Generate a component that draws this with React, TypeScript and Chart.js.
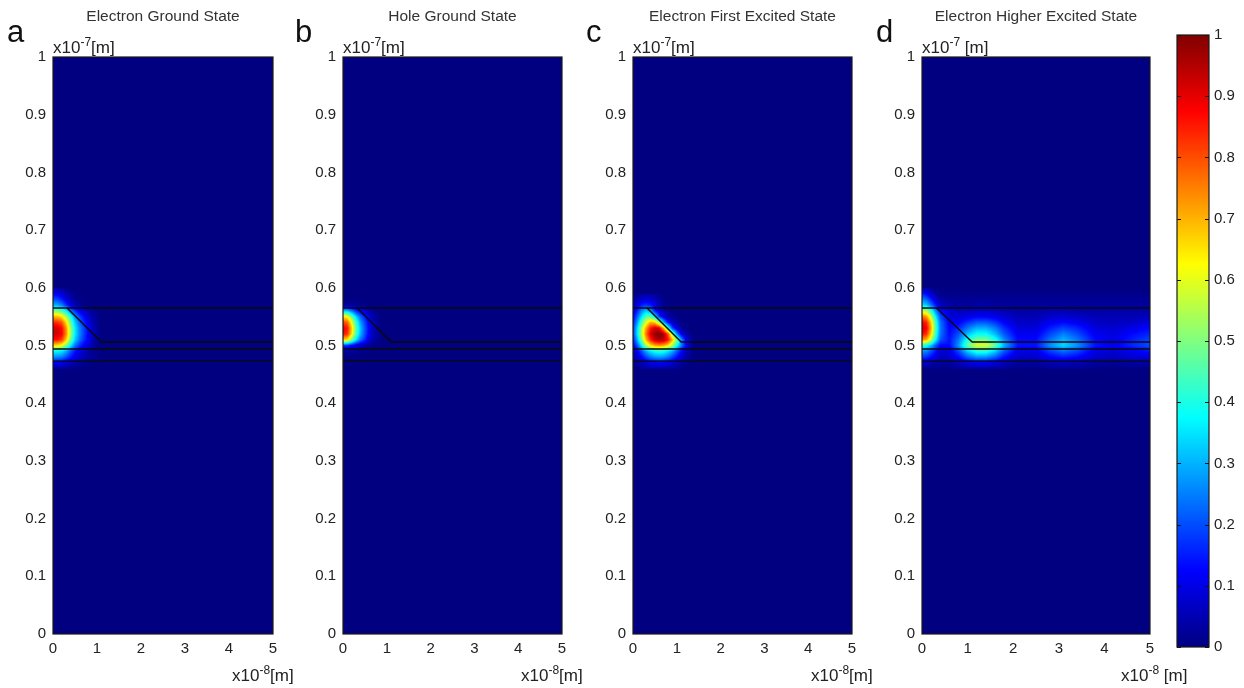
import React, { useEffect, useRef } from 'react';
import { Chart, registerables } from 'chart.js';
Chart.register(...registerables);

// ---------- DATA ----------
const yTickValues = [0, 0.1, 0.2, 0.3, 0.4, 0.5, 0.6, 0.7, 0.8, 0.9, 1];
const yTickLabels = ['0', '0.1', '0.2', '0.3', '0.4', '0.5', '0.6', '0.7', '0.8', '0.9', '1'];
const xTickValues = [0, 1, 2, 3, 4, 5];
const xTickLabels = ['0', '1', '2', '3', '4', '5'];
const cbTickValues = [0, 0.1, 0.2, 0.3, 0.4, 0.5, 0.6, 0.7, 0.8, 0.9, 1];
const cbTickLabels = ['0', '0.1', '0.2', '0.3', '0.4', '0.5', '0.6', '0.7', '0.8', '0.9', '1'];

const panelTitles = ['Electron Ground State', 'Hole Ground State', 'Electron First Excited State', 'Electron Higher Excited State'];
const panelLetters = ['a', 'b', 'c', 'd'];
const yUnitLabels = [['x10', '-7', '[m]'], ['x10', '-7', '[m]'], ['x10', '-7', '[m]'], ['x10', '-7', ' [m]']];
const xUnitLabels = [['x10', '-8', '[m]'], ['x10', '-8', '[m]'], ['x10', '-8', '[m]'], ['x10', '-8', ' [m]']];

// structure outline (x in 1e-8 m, y in 1e-7 m)
const topLineX = [0, 5];
const topLineY = [0.565, 0.565];
const stepLineX = [0.32, 1.1, 5];
const stepLineY = [0.565, 0.506, 0.506];
const midLineX = [0, 5];
const midLineY = [0.494, 0.494];
const lowLineX = [0, 5];
const lowLineY = [0.473, 0.473];

// probability density grids (rows: y from top to bottom, cols: x)
const gridAX = [0, 0.1, 0.2, 0.3, 0.4, 0.5, 0.6, 0.7, 0.8, 0.9, 1.0, 1.1];
const gridAY = [0.60, 0.59, 0.58, 0.57, 0.56, 0.55, 0.54, 0.53, 0.52, 0.51, 0.50, 0.49, 0.48, 0.47, 0.46];
const gridAValues = [
  [0.03, 0.03, 0.02, 0.01, 0, 0, 0, 0, 0, 0, 0, 0],
  [0.12, 0.11, 0.08, 0.05, 0.02, 0.01, 0, 0, 0, 0, 0, 0],
  [0.20, 0.19, 0.15, 0.09, 0.05, 0.02, 0.01, 0, 0, 0, 0, 0],
  [0.30, 0.29, 0.25, 0.17, 0.10, 0.05, 0.03, 0.01, 0, 0, 0, 0],
  [0.50, 0.49, 0.45, 0.36, 0.25, 0.17, 0.11, 0.07, 0.04, 0.02, 0.01, 0],
  [0.70, 0.69, 0.65, 0.54, 0.40, 0.27, 0.19, 0.13, 0.08, 0.04, 0.02, 0],
  [0.84, 0.83, 0.79, 0.66, 0.48, 0.32, 0.23, 0.16, 0.10, 0.05, 0.02, 0],
  [0.92, 0.91, 0.87, 0.73, 0.53, 0.36, 0.26, 0.19, 0.12, 0.06, 0.03, 0],
  [0.93, 0.92, 0.88, 0.74, 0.54, 0.36, 0.26, 0.19, 0.12, 0.06, 0.03, 0],
  [0.87, 0.86, 0.82, 0.68, 0.49, 0.33, 0.24, 0.17, 0.11, 0.05, 0.02, 0],
  [0.66, 0.65, 0.61, 0.50, 0.36, 0.24, 0.17, 0.12, 0.08, 0.04, 0.02, 0],
  [0.38, 0.37, 0.35, 0.29, 0.21, 0.14, 0.10, 0.07, 0.04, 0.02, 0.01, 0],
  [0.27, 0.26, 0.25, 0.20, 0.15, 0.10, 0.07, 0.05, 0.03, 0.02, 0.01, 0],
  [0.11, 0.11, 0.10, 0.08, 0.06, 0.04, 0.03, 0.02, 0.01, 0, 0, 0],
  [0.03, 0.03, 0.03, 0.02, 0.01, 0.01, 0, 0, 0, 0, 0, 0],
];

const gridBX = [0, 0.1, 0.2, 0.3, 0.4, 0.5, 0.6, 0.7, 0.8, 0.9];
const gridBY = [0.58, 0.57, 0.56, 0.55, 0.54, 0.53, 0.52, 0.51, 0.50, 0.49, 0.48];
const gridBValues = [
  [0, 0, 0, 0, 0, 0, 0, 0, 0, 0],
  [0.03, 0.03, 0.03, 0.02, 0.01, 0.01, 0, 0, 0, 0],
  [0.32, 0.31, 0.24, 0.16, 0.11, 0.07, 0.04, 0.02, 0.01, 0],
  [0.65, 0.62, 0.48, 0.33, 0.22, 0.15, 0.08, 0.04, 0.01, 0],
  [0.81, 0.78, 0.61, 0.42, 0.28, 0.19, 0.10, 0.05, 0.02, 0],
  [0.89, 0.85, 0.67, 0.46, 0.31, 0.21, 0.11, 0.05, 0.02, 0],
  [0.86, 0.83, 0.65, 0.45, 0.30, 0.20, 0.11, 0.05, 0.02, 0],
  [0.68, 0.65, 0.50, 0.35, 0.24, 0.16, 0.08, 0.04, 0.02, 0],
  [0.18, 0.17, 0.13, 0.09, 0.06, 0.04, 0.02, 0.01, 0, 0],
  [0.03, 0.03, 0.03, 0.02, 0.01, 0.01, 0, 0, 0, 0],
  [0, 0, 0, 0, 0, 0, 0, 0, 0, 0],
];

const gridCX = [0, 0.1, 0.2, 0.3, 0.4, 0.5, 0.6, 0.7, 0.8, 0.9, 1.0, 1.1, 1.2, 1.3, 1.4];
const gridCY = [0.59, 0.58, 0.57, 0.56, 0.55, 0.54, 0.53, 0.52, 0.51, 0.50, 0.49, 0.48, 0.47, 0.46];
const gridCValues = [
  [0, 0.01, 0.02, 0.03, 0.03, 0.02, 0.01, 0, 0, 0, 0, 0, 0, 0, 0],
  [0.02, 0.05, 0.08, 0.09, 0.08, 0.06, 0.03, 0.01, 0, 0, 0, 0, 0, 0, 0],
  [0.05, 0.10, 0.15, 0.17, 0.15, 0.10, 0.05, 0.02, 0.01, 0, 0, 0, 0, 0, 0],
  [0.08, 0.16, 0.26, 0.32, 0.28, 0.15, 0.08, 0.04, 0.02, 0.01, 0, 0, 0, 0, 0],
  [0.11, 0.22, 0.35, 0.46, 0.47, 0.36, 0.18, 0.09, 0.04, 0.02, 0.01, 0, 0, 0, 0],
  [0.14, 0.28, 0.45, 0.60, 0.70, 0.68, 0.52, 0.30, 0.14, 0.07, 0.03, 0.01, 0, 0, 0],
  [0.17, 0.34, 0.54, 0.72, 0.85, 0.92, 0.90, 0.70, 0.42, 0.19, 0.09, 0.03, 0.01, 0, 0],
  [0.17, 0.35, 0.56, 0.76, 0.91, 0.98, 1.00, 0.96, 0.80, 0.52, 0.26, 0.11, 0.04, 0.01, 0],
  [0.14, 0.30, 0.50, 0.70, 0.84, 0.93, 0.96, 0.94, 0.86, 0.70, 0.50, 0.28, 0.13, 0.05, 0.01],
  [0.10, 0.21, 0.37, 0.54, 0.65, 0.71, 0.73, 0.71, 0.65, 0.54, 0.39, 0.25, 0.13, 0.05, 0.01],
  [0.05, 0.11, 0.20, 0.29, 0.35, 0.39, 0.40, 0.39, 0.35, 0.29, 0.21, 0.13, 0.06, 0.03, 0],
  [0.03, 0.07, 0.13, 0.19, 0.24, 0.27, 0.28, 0.27, 0.24, 0.19, 0.14, 0.08, 0.04, 0.02, 0],
  [0.01, 0.03, 0.05, 0.08, 0.10, 0.11, 0.12, 0.11, 0.10, 0.08, 0.05, 0.03, 0.02, 0, 0],
  [0, 0.01, 0.02, 0.03, 0.04, 0.04, 0.04, 0.04, 0.03, 0.03, 0.02, 0.01, 0, 0, 0],
];

const gridDX = [0, 0.1, 0.2, 0.3, 0.4, 0.6, 0.8, 1.0, 1.2, 1.4, 1.6, 1.8, 2.1, 2.5, 2.8, 3.1, 3.4, 3.8, 4.2, 4.6, 5.0];
const gridDY = [0.60, 0.59, 0.58, 0.57, 0.56, 0.55, 0.54, 0.53, 0.52, 0.51, 0.50, 0.49, 0.48, 0.47, 0.46];
const gridDValues = [
  [0.05, 0.04, 0.02, 0.01, 0, 0, 0, 0, 0, 0, 0, 0, 0, 0, 0, 0, 0, 0, 0, 0, 0],
  [0.15, 0.12, 0.07, 0.03, 0.01, 0.01, 0.01, 0.01, 0.01, 0.01, 0.01, 0.01, 0.01, 0.01, 0.01, 0.01, 0.01, 0.01, 0.01, 0.01, 0.01],
  [0.25, 0.22, 0.15, 0.08, 0.04, 0.02, 0.02, 0.02, 0.02, 0.02, 0.02, 0.02, 0.02, 0.02, 0.02, 0.02, 0.02, 0.02, 0.02, 0.02, 0.02],
  [0.35, 0.32, 0.24, 0.14, 0.07, 0.04, 0.03, 0.03, 0.04, 0.04, 0.03, 0.03, 0.03, 0.03, 0.03, 0.03, 0.03, 0.03, 0.03, 0.03, 0.03],
  [0.57, 0.54, 0.42, 0.26, 0.14, 0.08, 0.06, 0.06, 0.07, 0.07, 0.06, 0.05, 0.04, 0.04, 0.05, 0.05, 0.04, 0.04, 0.04, 0.04, 0.04],
  [0.77, 0.72, 0.57, 0.36, 0.20, 0.09, 0.08, 0.10, 0.12, 0.12, 0.10, 0.08, 0.05, 0.05, 0.07, 0.08, 0.07, 0.05, 0.05, 0.05, 0.06],
  [0.88, 0.84, 0.67, 0.43, 0.24, 0.11, 0.12, 0.17, 0.21, 0.21, 0.18, 0.12, 0.07, 0.07, 0.11, 0.13, 0.11, 0.07, 0.06, 0.07, 0.09],
  [0.92, 0.88, 0.70, 0.45, 0.25, 0.12, 0.16, 0.24, 0.30, 0.30, 0.25, 0.17, 0.09, 0.09, 0.15, 0.19, 0.16, 0.09, 0.08, 0.10, 0.13],
  [0.87, 0.83, 0.66, 0.43, 0.24, 0.13, 0.20, 0.31, 0.38, 0.38, 0.31, 0.21, 0.11, 0.11, 0.19, 0.25, 0.20, 0.11, 0.09, 0.13, 0.16],
  [0.74, 0.70, 0.56, 0.37, 0.21, 0.14, 0.24, 0.40, 0.49, 0.49, 0.40, 0.26, 0.13, 0.13, 0.23, 0.30, 0.24, 0.13, 0.10, 0.15, 0.19],
  [0.42, 0.39, 0.31, 0.21, 0.13, 0.13, 0.27, 0.47, 0.59, 0.59, 0.48, 0.30, 0.14, 0.14, 0.26, 0.34, 0.27, 0.14, 0.11, 0.16, 0.20],
  [0.27, 0.25, 0.20, 0.14, 0.08, 0.09, 0.19, 0.32, 0.41, 0.41, 0.33, 0.21, 0.10, 0.10, 0.18, 0.23, 0.19, 0.10, 0.08, 0.11, 0.14],
  [0.18, 0.17, 0.13, 0.09, 0.06, 0.07, 0.13, 0.22, 0.27, 0.27, 0.22, 0.14, 0.07, 0.07, 0.12, 0.15, 0.13, 0.07, 0.06, 0.08, 0.09],
  [0.07, 0.07, 0.05, 0.04, 0.03, 0.03, 0.06, 0.09, 0.11, 0.11, 0.09, 0.06, 0.03, 0.03, 0.05, 0.06, 0.05, 0.03, 0.02, 0.03, 0.04],
  [0.02, 0.02, 0.01, 0.01, 0.01, 0.01, 0.02, 0.03, 0.04, 0.04, 0.03, 0.02, 0.01, 0.01, 0.02, 0.02, 0.02, 0.01, 0.01, 0.01, 0.01],
];

const grids = [
  { xs: gridAX, ys: gridAY, values: gridAValues },
  { xs: gridBX, ys: gridBY, values: gridBValues },
  { xs: gridCX, ys: gridCY, values: gridCValues },
  { xs: gridDX, ys: gridDY, values: gridDValues },
];

// ---------- LAYOUT ----------
const PLOT_TOP = 57;
const PLOT_BOTTOM = 634;
const PAGE_H = 688;
const AXIS_W = 53;
const PAD_R = 12;
const panelBoxes = [
  { left: 53, right: 273 },
  { left: 343, right: 562 },
  { left: 633, right: 852 },
  { left: 922, right: 1150 },
];
const letterLefts = [7, 295, 586, 876];
const xUnitLefts = [232, 521, 811, 1121];
const CB = { left: 1177, right: 1209, top: 35, bottom: 647 };

const FONT = '"Liberation Sans", Arial, Helvetica, sans-serif';
const TICK_FONT = { family: '"Liberation Sans Narrow", "Liberation Sans", Arial, sans-serif', size: 15 };
const TEXT_COLOR = '#222';

// ---------- HELPERS ----------
function clamp01(v: number) { return v < 0 ? 0 : v > 1 ? 1 : v; }
function jet(v: number): [number, number, number] {
  const t = clamp01(v);
  const r = clamp01(1.5 - Math.abs(4 * t - 3));
  const g = clamp01(1.5 - Math.abs(4 * t - 2));
  const b = clamp01(1.5 - Math.abs(4 * t - 1));
  return [Math.round(r * 255), Math.round(g * 255), Math.round(b * 255)];
}

function sample(grid: any, xv: number, yv: number) {
  const xs = grid.xs, ys = grid.ys, v = grid.values;
  if (xv < xs[0] || xv > xs[xs.length - 1] || yv > ys[0] || yv < ys[ys.length - 1]) return 0;
  let i = 0;
  while (i < xs.length - 2 && xv > xs[i + 1]) i++;
  let j = 0;
  while (j < ys.length - 2 && yv < ys[j + 1]) j++;
  const tx = (xv - xs[i]) / (xs[i + 1] - xs[i]);
  const ty = (ys[j] - yv) / (ys[j] - ys[j + 1]);
  const a = v[j][i], b = v[j][i + 1], c = v[j + 1][i], d = v[j + 1][i + 1];
  return (a * (1 - tx) + b * tx) * (1 - ty) + (c * (1 - tx) + d * tx) * ty;
}

function makeHeatPlugin(grid: any) {
  return {
    id: 'heat',
    beforeDatasetsDraw(chart: any) {
      const { ctx, chartArea, scales } = chart;
      const left = Math.round(chartArea.left), top = Math.round(chartArea.top);
      const w = Math.round(chartArea.right) - left;
      const h = Math.round(chartArea.bottom) - top;
      const off = document.createElement('canvas');
      off.width = w; off.height = h;
      const octx = off.getContext('2d')!;
      const img = octx.createImageData(w, h);
      const xVals = new Array(w);
      for (let px = 0; px < w; px++) xVals[px] = scales.x.getValueForPixel(left + px + 0.5);
      for (let py = 0; py < h; py++) {
        const yv = scales.y.getValueForPixel(top + py + 0.5);
        for (let px = 0; px < w; px++) {
          const val = sample(grid, xVals[px], yv);
          const [r, g, b] = jet(val);
          const k = (py * w + px) * 4;
          img.data[k] = r; img.data[k + 1] = g; img.data[k + 2] = b; img.data[k + 3] = 255;
        }
      }
      octx.putImageData(img, 0, 0);
      ctx.save();
      ctx.drawImage(off, left, top);
      ctx.restore();
    },
  };
}

const framePlugin = {
  id: 'frame',
  afterDraw(chart: any) {
    const { ctx, chartArea } = chart;
    ctx.save();
    ctx.strokeStyle = '#1a1a1a';
    ctx.lineWidth = 1.2;
    ctx.strokeRect(chartArea.left, chartArea.top, chartArea.right - chartArea.left, chartArea.bottom - chartArea.top);
    ctx.restore();
  },
};

const cbTickPlugin = {
  id: 'cbticks',
  afterDraw(chart: any) {
    const { ctx, chartArea, scales } = chart;
    ctx.save();
    ctx.strokeStyle = '#111';
    ctx.lineWidth = 1;
    cbTickValues.forEach((v) => {
      const y = Math.round(scales.y.getPixelForValue(v)) + 0.5;
      ctx.beginPath();
      ctx.moveTo(chartArea.left, y); ctx.lineTo(chartArea.left + 4, y);
      ctx.moveTo(chartArea.right, y); ctx.lineTo(chartArea.right - 4, y);
      ctx.stroke();
    });
    ctx.strokeStyle = '#1a1a1a';
    ctx.lineWidth = 1.2;
    ctx.strokeRect(chartArea.left, chartArea.top, chartArea.right - chartArea.left, chartArea.bottom - chartArea.top);
    ctx.restore();
  },
};

function toPoints(xs: number[], ys: number[]) {
  return xs.map((x, i) => ({ x, y: ys[i] }));
}

function panelConfig(idx: number) {
  const lines = [
    [topLineX, topLineY],
    [stepLineX, stepLineY],
    [midLineX, midLineY],
    [lowLineX, lowLineY],
  ];
  return {
    type: 'scatter',
    data: {
      datasets: lines.map(([xs, ys]) => ({
        data: toPoints(xs, ys),
        showLine: true,
        borderColor: '#0a0a0a',
        borderWidth: 1.4,
        pointRadius: 0,
        fill: false,
        tension: 0,
      })),
    },
    options: {
      animation: false,
      responsive: false,
      maintainAspectRatio: false,
      events: [],
      layout: { padding: { left: 0, right: PAD_R, top: PLOT_TOP, bottom: 0 } },
      plugins: { legend: { display: false }, tooltip: { enabled: false }, title: { display: false } },
      scales: {
        x: {
          type: 'linear', min: 0, max: 5,
          afterBuildTicks: (s: any) => { s.ticks = xTickValues.map((v) => ({ value: v })); },
          afterFit: (s: any) => { s.height = PAGE_H - PLOT_BOTTOM; },
          ticks: {
            callback: (v: number) => xTickLabels[xTickValues.indexOf(v)],
            font: TICK_FONT, color: TEXT_COLOR, padding: 6, maxRotation: 0, autoSkip: false,
          },
          grid: { display: false, drawTicks: false },
          border: { display: false },
        },
        y: {
          type: 'linear', min: 0, max: 1,
          afterBuildTicks: (s: any) => { s.ticks = yTickValues.map((v) => ({ value: v })); },
          afterFit: (s: any) => { s.width = AXIS_W; },
          ticks: {
            callback: (v: number) => yTickLabels[yTickValues.indexOf(v)],
            font: TICK_FONT, color: TEXT_COLOR, padding: 7, autoSkip: false,
          },
          grid: { display: false, drawTicks: false },
          border: { display: false },
        },
      },
    },
    plugins: [makeHeatPlugin(grids[idx]), framePlugin],
  };
}

function colorbarConfig() {
  return {
    type: 'bar',
    data: {
      labels: [''],
      datasets: [{
        data: [[0, 1]],
        backgroundColor: (c: any) => {
          const chart = c.chart;
          const ca = chart.chartArea;
          if (!ca) return '#000080';
          const g = chart.ctx.createLinearGradient(0, ca.bottom, 0, ca.top);
          g.addColorStop(0, 'rgb(0,0,128)');
          g.addColorStop(0.125, 'rgb(0,0,255)');
          g.addColorStop(0.375, 'rgb(0,255,255)');
          g.addColorStop(0.625, 'rgb(255,255,0)');
          g.addColorStop(0.875, 'rgb(255,0,0)');
          g.addColorStop(1, 'rgb(128,0,0)');
          return g;
        },
        borderWidth: 0,
        barPercentage: 1,
        categoryPercentage: 1,
      }],
    },
    options: {
      animation: false,
      responsive: false,
      maintainAspectRatio: false,
      events: [],
      layout: { padding: { left: 7, right: 0, top: CB.top, bottom: PAGE_H - CB.bottom } },
      plugins: { legend: { display: false }, tooltip: { enabled: false } },
      scales: {
        x: { display: false },
        y: {
          position: 'right', min: 0, max: 1,
          afterBuildTicks: (s: any) => { s.ticks = cbTickValues.map((v) => ({ value: v })); },
          afterFit: (s: any) => { s.width = 74 - 7 - (CB.right - CB.left); },
          ticks: {
            callback: (v: number) => cbTickLabels[cbTickValues.indexOf(v)],
            font: TICK_FONT, color: TEXT_COLOR, padding: 5, autoSkip: false,
          },
          grid: { display: false, drawTicks: false },
          border: { display: false },
        },
      },
    },
    plugins: [cbTickPlugin],
  };
}

function ChartCanvas({ left, width, config }: { left: number; width: number; config: () => any }) {
  const ref = useRef<HTMLCanvasElement | null>(null);
  useEffect(() => {
    if (!ref.current) return;
    const chart = new Chart(ref.current, config());
    return () => chart.destroy();
  }, []);
  return (
    <canvas
      ref={ref}
      width={width}
      height={PAGE_H}
      style={{ position: 'absolute', left, top: 0, width, height: PAGE_H }}
    />
  );
}

function UnitLabel({ left, top, parts }: { left: number; top: number; parts: string[] }) {
  return (
    <div style={{ position: 'absolute', left, top, fontSize: 17, lineHeight: '17px', whiteSpace: 'pre', color: TEXT_COLOR }}>
      {parts[0]}
      <span style={{ fontSize: 12, position: 'relative', top: -7 }}>{parts[1]}</span>
      {parts[2]}
    </div>
  );
}

export default function App() {
  return (
    <div style={{ position: 'absolute', left: 0, top: 0, width: 1244, height: PAGE_H, background: '#fff', overflow: 'hidden', fontFamily: FONT }}>
      {panelBoxes.map((b, i) => (
        <ChartCanvas key={'p' + i} left={b.left - AXIS_W} width={AXIS_W + (b.right - b.left) + PAD_R} config={() => panelConfig(i)} />
      ))}
      <ChartCanvas key="cb" left={CB.left - 7} width={74} config={colorbarConfig} />
      {panelBoxes.map((b, i) => (
        <div key={'t' + i} style={{ position: 'absolute', left: b.left - 40, width: b.right - b.left + 80, top: 8, textAlign: 'center', fontSize: 15.5, lineHeight: '15px', color: '#333', whiteSpace: 'nowrap' }}>
          {panelTitles[i]}
        </div>
      ))}
      {panelLetters.map((l, i) => (
        <div key={'l' + i} style={{ position: 'absolute', left: letterLefts[i], top: 17, fontSize: 31, lineHeight: '30px', color: '#111' }}>{l}</div>
      ))}
      {panelBoxes.map((b, i) => (
        <UnitLabel key={'yu' + i} left={b.left} top={39} parts={yUnitLabels[i]} />
      ))}
      {panelBoxes.map((b, i) => (
        <UnitLabel key={'xu' + i} left={xUnitLefts[i]} top={667} parts={xUnitLabels[i]} />
      ))}
    </div>
  );
}
